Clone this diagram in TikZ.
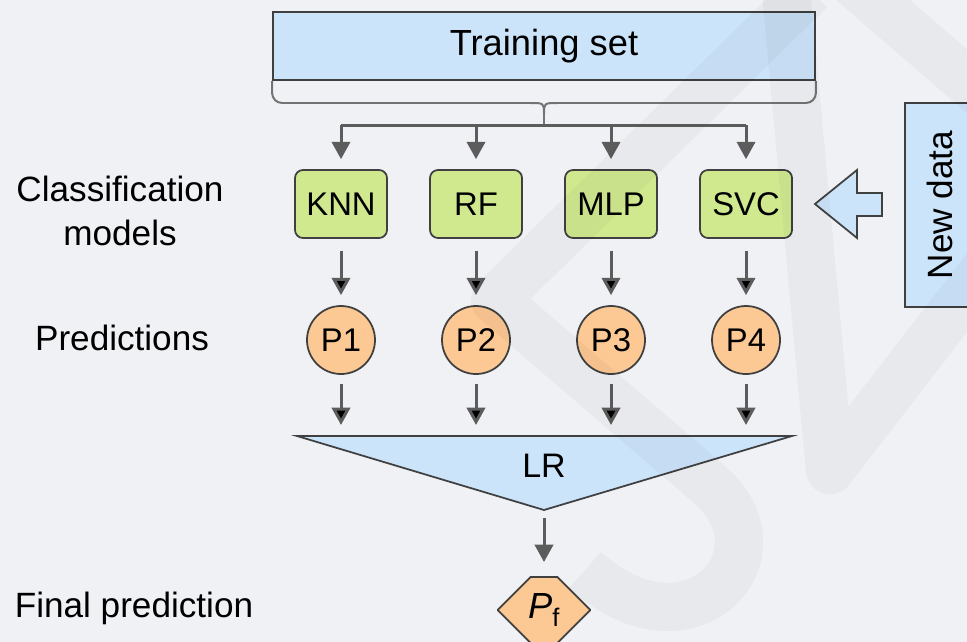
\documentclass[tikz,border=0pt]{standalone}
\usepackage{fontspec}
\setmainfont{Liberation Sans}
\usetikzlibrary{positioning,arrows.meta,shapes.misc}
\definecolor{bggray}{HTML}{EFF1F4}
\definecolor{setblue}{HTML}{CCE4FA}
\definecolor{modelgreen}{HTML}{D0E98F}
\definecolor{predorange}{HTML}{FCC893}
\definecolor{arrowgray}{HTML}{5C5C5C}

\begin{document}
\begin{tikzpicture}[x=0.03cm,y=-0.03cm]
\tikzstyle{box}=[rectangle, draw=black!75, line width=1.5pt, fill=setblue]
\tikzstyle{model}=[rectangle, rounded corners=0.24cm, draw=black!75, line width=1.5pt, fill=modelgreen, minimum width=2.76cm, minimum height=2.04cm, font=\fontsize{28}{32}\selectfont, node distance=4.05cm]
\tikzstyle{pred}=[circle, draw=black!75, line width=1.5pt, fill=predorange, minimum size=2.04cm, inner sep=0pt, font=\fontsize{28}{32}\selectfont, node distance=4.05cm]
\tikzstyle{hexa}=[chamfered rectangle, chamfered rectangle xsep=0.66cm, chamfered rectangle ysep=0.99cm, draw=black!75, line width=1.5pt, fill=predorange, minimum width=2.76cm, minimum height=1.98cm, inner sep=0pt, font=\fontsize{31}{32}\selectfont]
\tikzstyle{label}=[font=\fontsize{30}{37}\selectfont, align=center]
\tikzstyle{connect}=[-{Triangle[width=0.55cm,length=0.52cm]}, line width=0.09cm, draw=arrowgray]
\tikzstyle{line}=[line width=0.09cm, draw=arrowgray]
\tikzstyle{brace}=[line width=1.7pt, draw=black!55]
\tikzstyle{wm}=[line width=1.45cm, draw=black, opacity=0.03]
  \useasboundingbox (0,0) rectangle (967,642);
  \clip (0,0) rectangle (967,642);
  \fill[bggray] (0,0) rectangle (967,642);

  \node[box, minimum width=16.26cm, minimum height=2.04cm, font=\fontsize{31}{36}\selectfont] (train) at (544,46) {Training set};
  \node[model] (knn) at (341,204) {KNN};
  \node[model] (rf) [right of=knn] {RF};
  \node[model] (mlp) [right of=rf] {MLP};
  \node[model] (svc) [right of=mlp] {SVC};
  \node[pred] (p1) [node distance=4.08cm, below of=knn] {P1};
  \node[pred] (p2) [right of=p1] {P2};
  \node[pred] (p3) [right of=p2] {P3};
  \node[pred] (p4) [right of=p3] {P4};
  \node[hexa] (pf) at (544,610) {\itshape P\textsubscript{\upshape f}};
  \node[box, rotate=90, minimum width=6.12cm, minimum height=2.1cm, font=\fontsize{30}{36}\selectfont] (new) at (940,205) {New data};

  \node[label] (lmodels) at (120,211) {Classification\\models};
  \node[label] (lpred) at (122,338) {Predictions};
  \node[label] (lfinal) at (134,608) {Final prediction};

  % LR funnel
  \coordinate (lrl) at (297,436);
  \coordinate (lrr) at (792,436);
  \coordinate (lrb) at (544,510);
  \coordinate (lrtop) at (544,436);
  \coordinate (lrout) at (544,518);
  \coordinate (pfin) at (544,562);
  \filldraw[fill=setblue, draw=black!75, line width=1.5pt] (lrl) -- (lrr) -- (lrb) -- cycle;
  \node[font=\fontsize{29}{32}\selectfont] (lr) at (544,466) {LR};

  % brace under the training set
  \coordinate (split) at (544,125);
  \draw[brace, rounded corners=0.3cm] (train.south west) |- (530,103);
  \draw[brace, rounded corners=0.3cm] (train.south east) |- (558,103);
  \draw[brace] (530,103) .. controls (544,103) .. (544,114) .. controls (544,103) .. (558,103);
  \draw[brace] (544,114) -- (split);
  \draw[line] (split -| knn) -- (split -| svc);
  \foreach \m in {knn,rf,mlp,svc}
    \draw[connect, shorten >=0.3cm] (split -| \m) -- (\m);

  % new data arrow
  \filldraw[fill=setblue, draw=black!75, line width=1.5pt] (815,204) -- (857,170) -- (857,193) -- (882,193) -- (882,216) -- (857,216) -- (857,238) -- cycle;

  \path [connect, shorten <=0.36cm, shorten >=0.3cm]
        (knn) edge (p1)
        (rf) edge (p2)
        (mlp) edge (p3)
        (svc) edge (p4);
  \path [connect, shorten <=0.27cm, shorten >=0.33cm]
        (p1) edge (p1 |- lrtop)
        (p2) edge (p2 |- lrtop)
        (p3) edge (p3 |- lrtop)
        (p4) edge (p4 |- lrtop);
  \draw[connect] (lrout) -- (pfin);

  % watermark
  \draw[wm, line join=round] (810,-10) -- (495,300) -- (710,485) .. controls (790,555) and (690,665) .. (585,570);
  \draw[wm, line join=round] (785,-20) -- (830,470) -- (1000,250);
  \draw[wm] (850,-20) -- (1000,110);
\end{tikzpicture}
\end{document}
